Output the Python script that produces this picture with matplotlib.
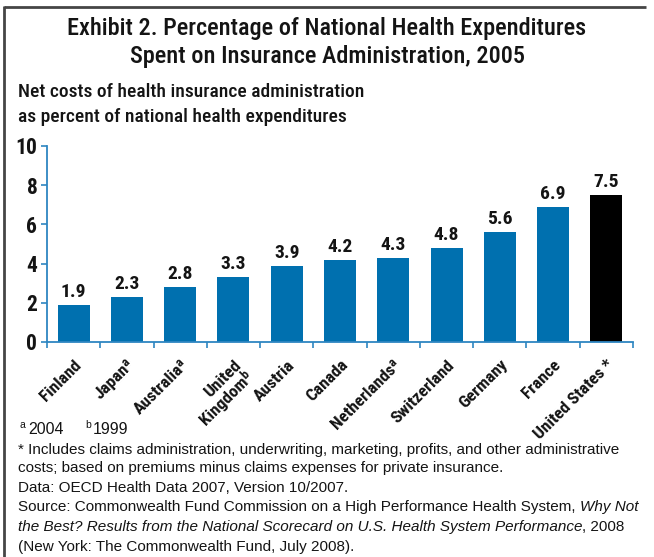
import matplotlib
matplotlib.use("Agg")
import matplotlib.pyplot as plt
from matplotlib.lines import Line2D

countries = ["Finland", "Japan\u1d43", "Australia\u1d43", "United\nKingdom\u1d47", "Austria",
             "Canada", "Netherlands\u1d43", "Switzerland", "Germany", "France", "United States *"]
values = [1.9, 2.3, 2.8, 3.3, 3.9, 4.2, 4.3, 4.8, 5.6, 6.9, 7.5]
bar_colors = ["#0070AF"] * 10 + ["#000000"]
yticks = [0, 2, 4, 6, 8, 10]

narrow = ["Roboto Condensed", "DejaVu Sans"]
plain = ["Liberation Sans", "DejaVu Sans"]
ink = "#141414"

W, H = 654, 557
fig = plt.figure(figsize=(W / 100, H / 100), dpi=100)


def fx(px):
    return px / W


def fy(py):
    return 1 - py / H


# frame along the top and left edges
fig.add_artist(Line2D([fx(4), fx(646)], [fy(7), fy(7)], color="#454545", lw=2.0,
                      transform=fig.transFigure, solid_capstyle="butt"))
fig.add_artist(Line2D([fx(4), fx(4)], [fy(6), fy(557)], color="#454545", lw=2.0,
                      transform=fig.transFigure, solid_capstyle="butt"))

ax = fig.add_axes([fx(47), fy(342), fx(633 - 47), fy(146) - fy(342)])
x = list(range(len(countries)))
ax.bar(x, values, width=0.6, color=bar_colors, zorder=2)
for xi, v in zip(x, values):
    ax.text(xi, v + 0.2, f"{v:.1f}", ha="center", va="bottom", fontsize=14,
            fontweight="bold", family=narrow, color=ink)

ax.set_xlim(-0.5, len(countries) - 0.5)
ax.set_ylim(0, 10)
ax.set_yticks(yticks)
ax.set_yticklabels([str(t) for t in yticks], fontsize=15.5, fontweight="bold", family=narrow, color=ink)
ax.set_xticks([i - 0.5 for i in range(len(countries) + 1)])
ax.set_xticklabels([])
ax.set_xticks(x, minor=True)
ax.set_xticklabels(countries, minor=True, rotation=45, ha="right", va="top",
                   rotation_mode="anchor", fontsize=12.5, fontweight="bold", family=narrow,
                   linespacing=0.95, color=ink)
ax.tick_params(axis="x", which="minor", length=0, pad=11)
ax.tick_params(axis="x", which="major", length=4, color="#2E86C1", width=1.2)
ax.tick_params(axis="y", length=4, color="#2E86C1", width=1.2, pad=3)
for s in ["top", "right"]:
    ax.spines[s].set_visible(False)
for s in ["left", "bottom"]:
    ax.spines[s].set_color("#2E86C1")
    ax.spines[s].set_linewidth(1.3)

fig.text(0.5, fy(28), "Exhibit 2. Percentage of National Health Expenditures",
         ha="center", va="center", fontsize=17.5, fontweight="medium", family=narrow, color=ink)
fig.text(0.5, fy(56), "Spent on Insurance Administration, 2005",
         ha="center", va="center", fontsize=17.5, fontweight="medium", family=narrow, color=ink)
fig.text(fx(18), fy(92), "Net costs of health insurance administration",
         ha="left", va="center", fontsize=14, fontweight="medium", family=narrow, color=ink)
fig.text(fx(18), fy(117), "as percent of national health expenditures",
         ha="left", va="center", fontsize=14, fontweight="medium", family=narrow, color=ink)

# year notes
fig.text(fx(19), fy(425), "a", ha="left", va="center", fontsize=7.5, family=plain, color=ink)
fig.text(fx(28), fy(429), "2004", ha="left", va="center", fontsize=11.5, family=plain, color=ink)
fig.text(fx(85), fy(425), "b", ha="left", va="center", fontsize=7.5, family=plain, color=ink)
fig.text(fx(93), fy(429), "1999", ha="left", va="center", fontsize=11.5, family=plain, color=ink)

# footnotes
fs = 11
fig.text(fx(18), fy(450),
         "* Includes claims administration, underwriting, marketing, profits, and other administrative",
         ha="left", va="center", fontsize=fs, family=plain, color=ink)
fig.text(fx(18), fy(468), "costs; based on premiums minus claims expenses for private insurance.",
         ha="left", va="center", fontsize=fs, family=plain, color=ink)
fig.text(fx(18), fy(488), "Data: OECD Health Data 2007, Version 10/2007.",
         ha="left", va="center", fontsize=fs, family=plain, color=ink)

r = fig.canvas.get_renderer()
t0 = fig.text(fx(18), fy(507),
              "Source: Commonwealth Fund Commission on a High Performance Health System, ",
              ha="left", va="center", fontsize=fs, family=plain, color=ink)
bb = t0.get_window_extent(renderer=r)
fig.text(bb.x1 / W, fy(507), "Why Not", ha="left", va="center", fontsize=fs,
         family=plain, style="italic", color=ink)
t1 = fig.text(fx(18), fy(527),
              "the Best? Results from the National Scorecard on U.S. Health System Performance",
              ha="left", va="center", fontsize=fs, family=plain, style="italic", color=ink)
bb = t1.get_window_extent(renderer=r)
fig.text(bb.x1 / W, fy(527), ", 2008", ha="left", va="center", fontsize=fs,
         family=plain, color=ink)
fig.text(fx(18), fy(547), "(New York: The Commonwealth Fund, July 2008).",
         ha="left", va="center", fontsize=fs, family=plain, color=ink)

fig.savefig("out.png", dpi=100)
